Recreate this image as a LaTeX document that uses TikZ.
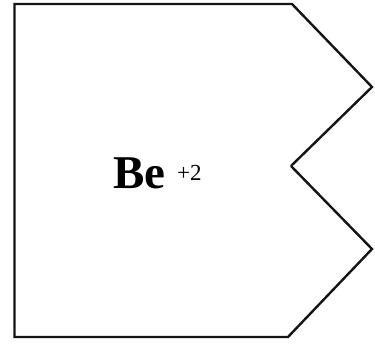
\documentclass[tikz,border=0pt]{standalone}
\usepackage{fontspec}
\setmainfont{Liberation Serif}
\usepackage{tikz}
\usetikzlibrary{positioning}
\definecolor{cellink}{RGB}{20,20,20}

\begin{document}
\begin{tikzpicture}[x=1pt, y=-1pt,
outline/.style={draw=cellink, line width=2.4pt, line join=miter},
symbol/.style={font=\fontsize{47}{50}\selectfont\bfseries, inner sep=0pt, anchor=base west},
charge/.style={font=\fontsize{23}{25}\selectfont, inner sep=0pt, anchor=base west}
]
\useasboundingbox (0,0) rectangle (375,343);

% corners of the ion tile
\coordinate (tl) at (14.5,4);
\coordinate (tr) at (292,4);
\coordinate (p1) at (372,87);
\coordinate (notch) at (291,166);
\coordinate (p2) at (372,249);
\coordinate (br) at (288,337);
\coordinate (bl) at (14.5,337);

\draw[outline] (notch) -- (p1) -- (tr) -- (tl) -- (bl) -- (br) -- (p2) -- (notch);

\node[symbol] (sym) at (113,188) {Be};
\node[charge] (chg) at (177,180) {+2};

\end{tikzpicture}
\end{document}
